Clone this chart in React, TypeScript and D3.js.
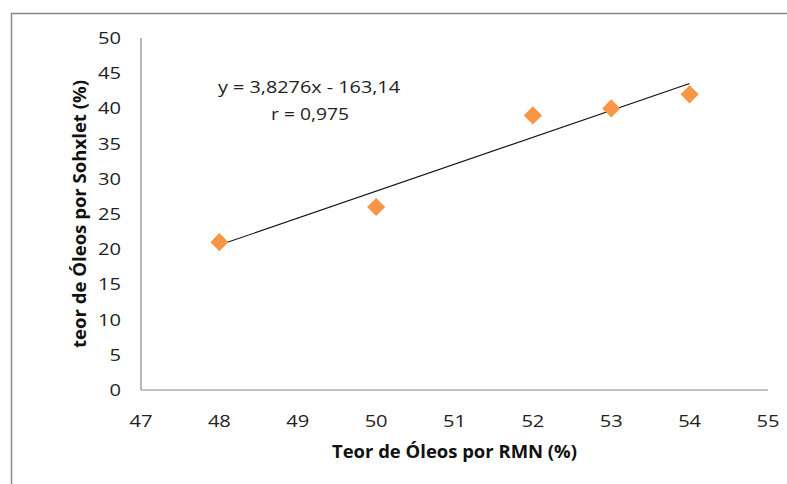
import React from "react";
import * as d3 from "d3";

const xValues = [48, 50, 52, 53, 54];
const yValues = [21, 26, 39, 40, 42];
const xTicks = [47, 48, 49, 50, 51, 52, 53, 54, 55];
const yTicks = [0, 5, 10, 15, 20, 25, 30, 35, 40, 45, 50];
const slope = 3.8276;
const intercept = -163.14;
const equationText = "y = 3,8276x - 163,14";
const rText = "r = 0,975";
const xTitle = "Teor de Óleos por RMN (%)";
const yTitle = "teor de Óleos por Sohxlet (%)";

const W = 787;
const H = 484;
const FONT = "'Open Sans', 'DejaVu Sans', sans-serif";

export default function App() {
  const x = d3.scaleLinear().domain([47, 55]).range([141, 768]);
  const y = d3.scaleLinear().domain([0, 50]).range([390, 38]);
  const diamond = d3.symbol().type(d3.symbolSquare).size(165)();
  const xs = d3.extent(xValues) as [number, number];
  const trend = d3.line<number>().x((v) => x(v)).y((v) => y(slope * v + intercept))(xs);

  return (
    <div style={{ position: "fixed", left: 0, top: 0, width: W, height: H, background: "#fff" }}>
      <svg width={W} height={H} style={{ display: "block" }}>
        <rect x={0} y={0} width={W} height={H} fill="#fff" />
        <path d={`M11.5,${H} V13.5 H${W}`} fill="none" stroke="#888" strokeWidth={1.5} />
        {/* axes */}
        <line x1={x(47)} x2={x(47)} y1={y(50)} y2={y(0)} stroke="#888" strokeWidth={1.2} />
        <line x1={x(47)} x2={x(55)} y1={y(0)} y2={y(0)} stroke="#888" strokeWidth={1.2} />
        {yTicks.map((t) => (
          <text
            key={"y" + t}
            x={121}
            y={y(t)}
            dy="0.36em"
            textAnchor="end"
            fontFamily={FONT}
            fontSize={16.5}
            fill="#222"
            textLength={String(t).length * 11.5}
            lengthAdjust="spacingAndGlyphs"
          >
            {t}
          </text>
        ))}
        {xTicks.map((t) => (
          <text
            key={"x" + t}
            x={x(t)}
            y={427}
            textAnchor="middle"
            fontFamily={FONT}
            fontSize={16.5}
            fill="#222"
            textLength={23}
            lengthAdjust="spacingAndGlyphs"
          >
            {t}
          </text>
        ))}
        <path d={trend ?? ""} fill="none" stroke="#111" strokeWidth={1.1} />
        {xValues.map((v, i) => (
          <path
            key={"p" + i}
            d={diamond ?? ""}
            transform={`translate(${x(v)},${y(yValues[i])}) rotate(45)`}
            fill="#F79646"
          />
        ))}
        <text
          x={309}
          y={93}
          textAnchor="middle"
          fontFamily={FONT}
          fontSize={16.5}
          fill="#222"
          textLength={182}
          lengthAdjust="spacingAndGlyphs"
        >
          {equationText}
        </text>
        <text
          x={310}
          y={120}
          textAnchor="middle"
          fontFamily={FONT}
          fontSize={16.5}
          fill="#222"
          textLength={78}
          lengthAdjust="spacingAndGlyphs"
        >
          {rText}
        </text>
        <text
          x={454.5}
          y={458}
          textAnchor="middle"
          fontFamily={FONT}
          fontSize={17.5}
          fontWeight="bold"
          fill="#111"
          textLength={245}
          lengthAdjust="spacingAndGlyphs"
        >
          {xTitle}
        </text>
        <text
          transform={`translate(86,214) rotate(-90)`}
          textAnchor="middle"
          fontFamily={FONT}
          fontSize={17.5}
          fontWeight="bold"
          fill="#111"
          textLength={268}
          lengthAdjust="spacingAndGlyphs"
        >
          {yTitle}
        </text>
      </svg>
    </div>
  );
}
